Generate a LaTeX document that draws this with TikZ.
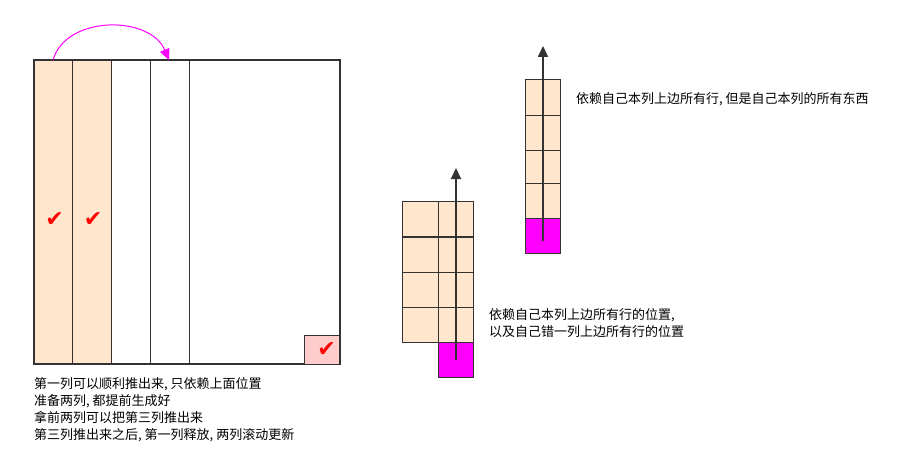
\documentclass[tikz,border=0pt]{standalone}
\usepackage{fontspec}
\newfontfamily\cjk{Noto Sans CJK SC}
\newfontfamily\sym{DejaVu Sans}
\usetikzlibrary{arrows.meta}
\definecolor{peach}{HTML}{FFE6CC}
\definecolor{mag}{HTML}{FF00FF}
\definecolor{pinkbox}{HTML}{FFCCCC}
\definecolor{dk}{HTML}{333333}
\tikzset{
  cell/.style={draw=dk, line width=0.9pt, fill=peach},
  magcell/.style={draw=dk, line width=0.9pt, fill=mag},
  upArrow/.style={draw=dk, line width=2pt, -{Triangle[length=11pt,width=10pt]}},
  tick/.style={text=red, font=\sym\fontsize{22}{22}\selectfont, inner sep=0pt},
  lbl/.style={font=\cjk\fontsize{13}{17}\selectfont, align=left, inner sep=0pt, anchor=north west},
}
\begin{document}
\begin{tikzpicture}[x=1pt,y=-1pt]
\useasboundingbox (0,0) rectangle (897,468);
% main box
\fill[peach] (34,60) rectangle (111,364);
\foreach \xx in {72,111,150,189} \draw[dk, line width=0.8pt] (\xx,60) -- (\xx,364);
\draw[dk, line width=1.6pt] (34,60) rectangle (340,364);
\node[tick] (t1) at (54.5,220) {✔};
\node[tick] (t2) at (93,220) {✔};
\node[draw=dk, line width=0.9pt, fill=pinkbox, minimum width=35pt, minimum height=29pt, inner sep=0pt] (pk) at (321.5,349.5) {};
\node[tick] (t3) at (326.5,350) {✔};
\coordinate (a1) at (53,60);
\coordinate (a2) at (169,60);
\draw[mag, line width=1pt, -{Triangle[length=11pt,width=10pt]}] (a1) .. controls (66,15) and (150,15) .. (a2);
\node[lbl] (txt1) at (34,377) {第一列可以顺利推出来, 只依赖上面位置\\准备两列, 都提前生成好\\拿前两列可以把第三列推出来\\第三列推出来之后, 第一列释放, 两列滚动更新};
% middle figure
\foreach \r/\y in {1/201,2/237,3/272,4/307} {
  \draw[cell] (402,\y) rectangle (438,\y+35);
  \draw[cell] (438,\y) rectangle (473,\y+35);
}
\node[magcell, minimum width=35pt, minimum height=35pt, inner sep=0pt] (m1) at (455.5,359.5) {};
\coordinate (b1) at (456,360);
\coordinate (b2) at (456,168);
\draw[upArrow] (b1) -- (b2);
\node[lbl] (txt2) at (489,308) {依赖自己本列上边所有行的位置,\\以及自己错一列上边所有行的位置};
% right figure
\foreach \y/\h in {79/36,115/35,150/33,183/35} {
  \draw[cell] (525,\y) rectangle (560,\y+\h);
}
\node[magcell, minimum width=35pt, minimum height=35pt, inner sep=0pt] (m2) at (542.5,235.5) {};
\coordinate (c1) at (543,241);
\coordinate (c2) at (543,46);
\draw[upArrow] (c1) -- (c2);
\node[lbl] (txt3) at (576,92) {依赖自己本列上边所有行, 但是自己本列的所有东西};
\end{tikzpicture}
\end{document}
